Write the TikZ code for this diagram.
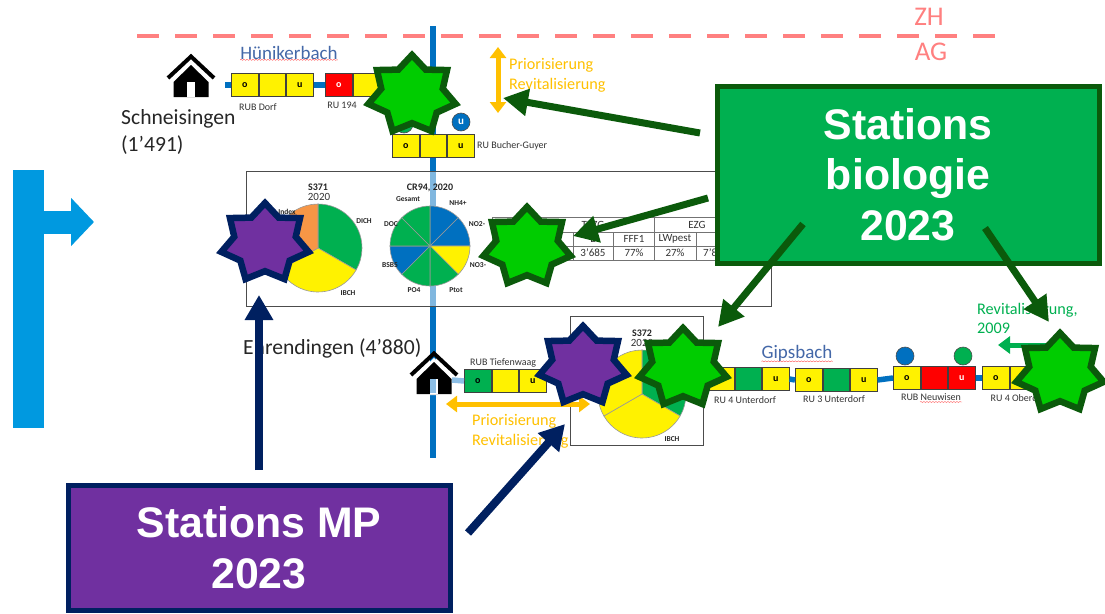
\documentclass[tikz,border=0pt]{standalone}
\usepackage{fontspec}
\setmainfont{Carlito}
\newfontfamily\arialfont{Liberation Sans}
\usetikzlibrary{arrows.meta,shapes.geometric,decorations.pathmorphing}
\definecolor{riverblue}{HTML}{0070C0}
\definecolor{riverpale}{HTML}{8DBFE6}
\definecolor{sideblue}{HTML}{0099E0}
\definecolor{cellgreen}{HTML}{00B050}
\definecolor{darkgreen}{HTML}{0B5A0B}
\definecolor{stargreen}{HTML}{00CC00}
\definecolor{mpviolet}{HTML}{7030A0}
\definecolor{navyline}{HTML}{002060}
\definecolor{prioorange}{HTML}{FFC000}
\definecolor{borderpink}{HTML}{FF8080}
\definecolor{streamname}{HTML}{4468A8}
\definecolor{pieorange}{HTML}{F79646}
\newcommand{\pieslice}[4]{\fill[#4,draw=gray!80,line width=.6pt] (0,0) -- (#2:#1) arc[start angle=#2,end angle=#3,radius=#1] -- cycle;}
\newcommand{\fsize}[1]{\fontsize{#1}{#1}\selectfont}
\tikzset{dwelling/.pic={
        \fill[white] (0,6) -- (-19,24) -- (-19,43) -- (19,43) -- (19,24) -- cycle;
        \fill[black] (0,10) -- (-17.5,27) -- (-17.5,42) -- (17.5,42) -- (17.5,27) -- cycle;
        \fill[white] (-4,27) rectangle (4,42);
        \draw[black,line width=4pt,miter limit=10] (-23,23) -- (0,1.5) -- (23,23);
    }}
\begin{document}
\begin{tikzpicture}[x=1pt,y=-1pt]
    \tikzstyle{river}=[riverblue,line width=5.5pt]
    \tikzstyle{palewater}=[riverpale,line width=5.5pt]
    \tikzstyle{cell}=[draw=black!75,line width=.8pt,minimum width=26.7pt,minimum height=22.5pt,inner sep=0pt,font=\fsize{10}\bfseries]
    \tikzstyle{tiny}=[inner sep=0pt,font=\fsize{10},text=black!80]
    \tikzstyle{pielabel}=[inner sep=0pt,font=\fsize{7.5}\bfseries,text=black!85]
    \tikzstyle{pietitle}=[inner sep=0pt,font=\fsize{10}\bfseries,text=black!85]
    \tikzstyle{tabletext}=[inner sep=0pt,font=\fsize{11},text=black!80]
    \tikzstyle{town}=[inner sep=0pt,align=left,anchor=west,text=black!85,font=\fontsize{21.6}{27}\selectfont]
    \tikzstyle{prio}=[inner sep=0pt,align=left,anchor=west,text=prioorange,font=\fontsize{16.2}{20}\selectfont]
    \tikzstyle{stream}=[inner sep=0pt,text=streamname,font=\fsize{19}]
    \tikzstyle{canton}=[inner sep=0pt,text=borderpink,font=\fsize{27}]
    \tikzstyle{squiggle}=[red!70,line width=.4pt,decorate,decoration={snake,amplitude=.5pt,segment length=3pt}]
    \tikzstyle{spellblue}=[blue!40,line width=.5pt,double,double distance=.6pt]
    \tikzstyle{dot}=[circle,draw=black!70,line width=.6pt,minimum size=18pt,inner sep=0pt]
    \tikzstyle{greenstar}=[star,star points=7,star point ratio=1.42,minimum size=80pt,inner sep=0pt,xscale=1.12,transform shape,fill=stargreen,draw=darkgreen,line width=6.5pt,miter limit=6]
    \tikzstyle{violetstar}=[star,star points=7,star point ratio=1.42,minimum size=80pt,inner sep=0pt,xscale=1.12,transform shape,fill=mpviolet,draw=navyline,line width=6.5pt,miter limit=6]
    \tikzstyle{greenarrow}=[darkgreen,line width=7pt,-{Triangle[length=25pt,width=26pt]}]
    \tikzstyle{navyarrow}=[navyline,line width=8pt,-{Triangle[length=25pt,width=27pt]}]
    \tikzstyle{prioarrow}=[prioorange,line width=5pt,{Triangle[length=11pt,width=16pt]}-{Triangle[length=11pt,width=16pt]}]
    \tikzstyle{bigbox}=[line width=5pt,inner sep=0pt,text=white,align=center,font=\arialfont\fontsize{42.8}{50.5}\selectfont\bfseries]
    \useasboundingbox (0,0) rectangle (1105,613);

    % border and main river
    \coordinate (borderleft) at (137,36);
    \coordinate (borderright) at (997,36);
    \coordinate (rivertop) at (433,26);
    \coordinate (riverbot) at (433,458);
    \draw[borderpink,line width=4.5pt,dash pattern=on 22pt off 16pt] (borderleft) -- (borderright);
    \draw[river] (rivertop) -- (riverbot);
    \node[canton] (zh) at (929,17) {ZH};
    \node[canton] (ag) at (931,52) {AG};

    % side arrow
    \node[fill=sideblue,minimum width=31pt,minimum height=258pt,inner sep=0pt] (sidebar) at (28.5,299) {};
    \coordinate (sidetip) at (94,222);
    \draw[sideblue,line width=23pt,-{Triangle[length=23pt,width=47pt]}] (sidebar.east |- sidetip) -- (sidetip);

    % streams
    \foreach \nm/\x/\y/\a/\b/\c/\ucol in {dorf/231/85/yellow/yellow/yellow/black,
        rubiny/325/85/red/yellow/yellow/black,
        bucher/392/146/yellow/yellow/yellow/black,
        tiefen/464/381/cellgreen/yellow/yellow/black,
        unter/707/379/yellow/cellgreen/yellow/black,
        drei/795/380/yellow/cellgreen/yellow/black,
        neu/893/378/yellow/red/red/white,
        ober/982/378/yellow/yellow/yellow/black} {
        \node[cell,fill=\a,anchor=west] (\nm1) at (\x,\y) {o};
        \node[cell,fill=\b,anchor=west] (\nm2) at (\nm1.east) {};
        \node[cell,fill=\c,anchor=west,text=\ucol] (\nm3) at (\nm2.east) {u};
    }
    \node[cell,fill=red,text=white,anchor=west] (rubiny1) at (325,85) {o};
    \coordinate (dorfstart) at (225,85);
    \draw[river] (dorfstart) -- (dorf1.west);
    \draw[river] (dorf3.east) -- (rubiny1.west);
    \draw[river] (rubiny3.east) -- (rubiny3.east -| rivertop);
    \draw[river] (unter3.east) -- (drei1.west);
    \draw[river] (drei3.east) -- (neu1.west);
    \draw[river] (neu3.east) -- (ober1.west);

    \node[dot,fill=cellgreen] (bucherdot) at (404,124) {};
    \node[dot,fill=riverblue,text=white,font=\fsize{11}\bfseries] (bucherdotu) at (461,122) {u};
    \node[dot,fill=riverblue] (neudotblue) at (905,356) {};
    \node[dot,fill=cellgreen] (neudotgreen) at (963,356) {};

    \node[tiny] (dorflabel) at (258,107) {RUB Dorf};
    \node[tiny] (rubinylabel) at (342,105) {RU 194};
    \node[tiny,anchor=west] (bucherlabel) at (477,146) {RU Bucher-Guyer};
    \node[tiny,anchor=west] (tiefenlabel) at (470,363) {RUB Tiefenwaag};
    \node[tiny] (unterlabel) at (745,400) {RU 4 Unterdorf};
    \node[tiny] (dreilabel) at (834,399) {RU 3 Unterdorf};
    \node[tiny] (neulabel) at (931,397) {RUB Neuwisen};
    \node[tiny] (oberlabel) at (1020,398) {RU 4 Oberdorf};
    \draw[spellblue] (dorflabel.south west) -- (dorflabel.south east);
    \draw[spellblue] (tiefenlabel.south west) -- (tiefenlabel.south east);
    \coordinate (neusquigstart) at (920,402);
    \coordinate (neusquigend) at (962,402);
    \draw[squiggle] (neusquigstart) -- (neusquigend);

    \node[stream] (huenikerbach) at (289,53) {Hünikerbach};
    \node[stream] (gipsbach) at (797,353) {Gipsbach};
    \draw[squiggle] (huenikerbach.south west) -- (huenikerbach.south east);
    \draw[squiggle] (gipsbach.south west) -- (gipsbach.south east);

    % villages
    \pic at (191,55) {dwelling};
    \pic at (434,352) {dwelling};
    \coordinate (doortop) at (433,379);
    \coordinate (doorbot) at (433,393);
    \coordinate (housewall) at (452,380);
    \draw[palewater] (doortop) -- (doorbot);
    \draw[palewater] (housewall) -- (tiefen1.west);
    \node[town] (schneisingen) at (121,132) {Schneisingen\\(1’491)};
    \node[town] (ehrendingen) at (243,348) {Ehrendingen (4’880)};

    % middle panel
    \node[draw=black!70,line width=.9pt,fill=white,fill opacity=.5,minimum width=525pt,minimum height=135pt,inner sep=0pt] (panel) at (508.5,238.5) {};

    \begin{scope}[shift={(318,248)}]
        \pieslice{44pt}{90}{-30}{cellgreen}
        \pieslice{44pt}{-30}{-150}{yellow}
        \pieslice{44pt}{210}{90}{pieorange}
    \end{scope}
    \node[pietitle] (sone) at (318,187) {S371};
    \node[tabletext] (soneyear) at (319,197) {2020};
    \node[pielabel] (indexlabel) at (287,212) {Index};
    \node[pielabel] (dichlabel) at (364,221) {DICH};
    \node[pielabel] (ibchlabel) at (348,293) {IBCH};

    \begin{scope}[shift={(430,246)}]
        \foreach \from/\col in {90/riverblue,45/riverblue,0/yellow,-45/cellgreen,-90/cellgreen,-135/riverblue,-180/cellgreen,-225/cellgreen} {
            \pgfmathsetmacro{\upto}{\from-45}
            \pieslice{40pt}{\from}{\upto}{\col}
        }
    \end{scope}
    \node[pietitle] (crtitle) at (430,188) {CR94, 2020};
    \node[pielabel] (gesamt) at (408,199) {Gesamt};
    \node[pielabel] (nhfour) at (458,203) {NH4+};
    \node[pielabel] (notwo) at (477,224) {NO2-};
    \node[pielabel] (nothree) at (478,265) {NO3-};
    \node[pielabel] (ptot) at (456,290) {Ptot};
    \node[pielabel] (pofour) at (414,290) {PO4};
    \node[pielabel] (bsb) at (390,265) {BSB5};
    \node[pielabel] (doc) at (391,224) {DOC};

    % table
    \draw[black!55,line width=.7pt] (492,217) rectangle (745,260) (492,232) -- (745,232) (492,246) -- (745,246);
    \foreach \x in {573,613,696} {\draw[black!55,line width=.7pt] (\x,232) -- (\x,260);}
    \draw[black!55,line width=.7pt] (654,217) -- (654,260);
    \node[tabletext] (tezg) at (593,225) {TEZG};
    \node[tabletext] (ezg) at (697,225) {EZG};
    \node[tabletext] (headarea) at (593,239) {E};
    \node[tabletext] (headfff) at (634,239) {FFF1};
    \node[tabletext] (headlw) at (675,239) {LWpest};
    \node[tabletext] (headezg) at (718,239) {E};
    \node[tabletext] (valarea) at (593,253) {3’685};
    \node[tabletext] (valfff) at (634,253) {77\%};
    \node[tabletext] (vallw) at (675,253) {27\%};
    \node[tabletext,anchor=west] (valezg) at (703,253) {7’8};

    % lower panel
    \node[draw=black!70,line width=.9pt,minimum width=133pt,minimum height=129pt,inner sep=0pt] (lowerpanel) at (636.5,380.5) {};
    \begin{scope}[shift={(642,394)}]
        \pieslice{44pt}{90}{-30}{cellgreen}
        \pieslice{44pt}{-30}{-150}{yellow}
        \pieslice{44pt}{210}{90}{yellow}
    \end{scope}
    \node[pietitle] (stwo) at (642,333) {S372};
    \node[tabletext] (stwoyear) at (642,343) {2020};
    \node[pielabel] (ibchtwo) at (672,439) {IBCH};

    % priorities and measures
    \coordinate (prioup) at (498,47);
    \coordinate (priodown) at (498,113);
    \coordinate (prioleft) at (446,404);
    \coordinate (prioright) at (590,404);
    \draw[prioarrow] (prioup) -- (priodown);
    \draw[prioarrow] (prioleft) -- (prioright);
    \node[prio] (priotop) at (509,75) {Priorisierung\\Revitalisierung};
    \node[prio] (priolow) at (472,431) {Priorisierung\\Revitalisierung};
    \node[inner sep=0pt,align=left,anchor=west,text=cellgreen,font=\fontsize{16.2}{19}\selectfont] (revit) at (977,318) {Revitalisierung,\\2009};
    \coordinate (revittail) at (1050,345);
    \coordinate (revittip) at (998,345);
    \draw[cellgreen,line width=5pt,-{Triangle[length=12pt,width=17pt]}] (revittail) -- (revittip);

    % stations
    \node[greenstar] (bioone) at (412,95) {};
    \node[greenstar] (biotwo) at (527,247) {};
    \node[greenstar] (biothree) at (683,368) {};
    \node[greenstar] (biofour) at (1060,373) {};
    \node[violetstar] (mpone) at (265,243) {};
    \node[violetstar] (mptwo) at (583,366) {};

    \node[bigbox,fill=cellgreen,draw=darkgreen,minimum width=382pt,minimum height=177pt] (biobox) at (908,174.5) {Stations\\biologie\\2023};
    \node[bigbox,fill=mpviolet,draw=navyline,minimum width=382pt,minimum height=125pt] (mpbox) at (259,547.5) {Stations MP\\2023};

    \coordinate (tailone) at (700,133);
    \coordinate (tipone) at (503,98);
    \coordinate (tailtwo) at (708,198);
    \coordinate (tiptwo) at (573,236);
    \coordinate (tailthree) at (803,224);
    \coordinate (tipthree) at (718,327);
    \coordinate (tailfour) at (985,228);
    \coordinate (tipfour) at (1049,322);
    \draw[greenarrow] (tailone) -- (tipone);
    \draw[greenarrow] (tailtwo) -- (tiptwo);
    \draw[greenarrow] (tailthree) -- (tipthree);
    \draw[greenarrow] (tailfour) -- (tipfour);

    \coordinate (mptailone) at (259,470);
    \coordinate (mptipone) at (259,295);
    \coordinate (mptailtwo) at (468,533);
    \coordinate (mptiptwo) at (565,424);
    \draw[navyarrow] (mptailone) -- (mptipone);
    \draw[navyarrow] (mptailtwo) -- (mptiptwo);
\end{tikzpicture}
\end{document}
